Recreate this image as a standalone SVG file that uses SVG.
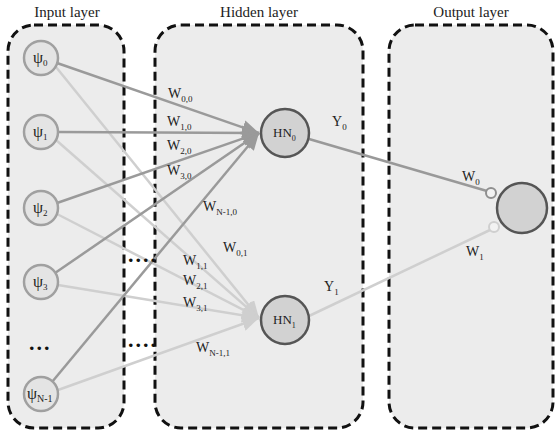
<svg xmlns="http://www.w3.org/2000/svg" width="556" height="432" viewBox="0 0 556 432">
<style>
.box{fill:#ececec;stroke:#111;stroke-width:3;stroke-dasharray:9 5}
.t{font-family:"Liberation Serif","Times New Roman",serif;fill:#222}
.title{font-size:15px;text-anchor:middle}
.w{font-size:14px}
.p{font-size:16px}
.s{font-size:9px}
.in{fill:#e4e4e4;stroke:#a0a0a0;stroke-width:2.5}
.hn{fill:#d2d2d2;stroke:#555;stroke-width:2.5}
.d{stroke:#9a9a9a;stroke-width:2.5;fill:none}
.l{stroke:#cfcfcf;stroke-width:2.5;fill:none}
.dots{font-family:"Liberation Serif",serif;font-size:22px;fill:#111;font-weight:bold;letter-spacing:2px}
</style>
<defs>
<marker id="ad" viewBox="0 0 16 14" refX="16" refY="7" markerWidth="17" markerHeight="15" markerUnits="userSpaceOnUse" orient="auto"><path d="M0,0 L16,7 L0,14 z" fill="#9a9a9a"/></marker>
<marker id="al" viewBox="0 0 16 14" refX="16" refY="7" markerWidth="17" markerHeight="15" markerUnits="userSpaceOnUse" orient="auto"><path d="M0,0 L16,7 L0,14 z" fill="#cfcfcf"/></marker>
</defs>
<g id="layers">
<rect id="input-layer" class="box" x="8" y="25" width="116" height="403" rx="26"/>
<rect id="hidden-layer" class="box" x="155" y="25" width="208" height="403" rx="26"/>
<rect id="output-layer" class="box" x="389" y="25" width="164" height="403" rx="26"/>
<text class="t title" x="67" y="17">Input layer</text>
<text class="t title" x="259" y="17">Hidden layer</text>
<text class="t title" x="471" y="17">Output layer</text>
</g>
<g id="connectors">
<line class="l" x1="56" y1="67" x2="259" y2="318" marker-end="url(#al)"/>
<line class="l" x1="56" y1="140" x2="259" y2="318" marker-end="url(#al)"/>
<line class="l" x1="57" y1="214" x2="259" y2="318" marker-end="url(#al)"/>
<line class="l" x1="58" y1="285" x2="259" y2="318" marker-end="url(#al)"/>
<line class="l" x1="58" y1="390" x2="259" y2="318" marker-end="url(#al)"/>
<line class="d" x1="57" y1="63" x2="259" y2="133" marker-end="url(#ad)"/>
<line class="d" x1="58" y1="132" x2="259" y2="133" marker-end="url(#ad)"/>
<line class="d" x1="57" y1="203" x2="259" y2="133" marker-end="url(#ad)"/>
<line class="d" x1="55" y1="273" x2="259" y2="133" marker-end="url(#ad)"/>
<line class="d" x1="52" y1="382" x2="259" y2="133" marker-end="url(#ad)"/>
<line x1="309" y1="139" x2="487" y2="191" stroke="#999" stroke-width="2.5"/>
<line x1="309" y1="316" x2="490" y2="230" stroke="#cfcfcf" stroke-width="2.5"/>
<circle cx="491" cy="193" r="5" fill="#f2f2f2" stroke="#8f8f8f" stroke-width="2"/>
<circle cx="494" cy="227" r="5" fill="#f2f2f2" stroke="#cfcfcf" stroke-width="2"/>
</g>
<g id="psi0"><circle class="in" cx="41" cy="58" r="17"/><text class="t p" x="33" y="63">ψ<tspan class="s" dy="3">0</tspan></text></g>
<g id="psi1"><circle class="in" cx="41" cy="132" r="17"/><text class="t p" x="33" y="137">ψ<tspan class="s" dy="3">1</tspan></text></g>
<g id="psi2"><circle class="in" cx="41" cy="208" r="17"/><text class="t p" x="33" y="213">ψ<tspan class="s" dy="3">2</tspan></text></g>
<g id="psi3"><circle class="in" cx="41" cy="282" r="17"/><text class="t p" x="33" y="287">ψ<tspan class="s" dy="3">3</tspan></text></g>
<g id="psiN"><circle class="in" cx="41" cy="394" r="17"/><text class="t p" x="27" y="399">ψ<tspan font-size="10" dy="3">N-1</tspan></text></g>
<g id="ellipsis">
<text class="dots" x="29" y="350">...</text>
<text class="dots" x="128" y="262">....</text>
<text class="dots" x="128" y="347">....</text>
</g>
<g id="HN0"><circle class="hn" cx="285" cy="133" r="24"/><text class="t" font-size="13" x="273" y="137">HN<tspan font-size="8" dy="4">0</tspan></text></g>
<g id="HN1"><circle class="hn" cx="285" cy="320" r="24"/><text class="t" font-size="13" x="273" y="324">HN<tspan font-size="8" dy="4">1</tspan></text></g>
<g id="out"><circle class="hn" cx="522" cy="208" r="25"/></g>
<g id="labels">
<text class="t w" x="168" y="98">W<tspan class="s" dy="4">0,0</tspan></text>
<text class="t w" x="167" y="126">W<tspan class="s" dy="4">1,0</tspan></text>
<text class="t w" x="167" y="150">W<tspan class="s" dy="4">2,0</tspan></text>
<text class="t w" x="167" y="175">W<tspan class="s" dy="4">3,0</tspan></text>
<text class="t w" x="203" y="211">W<tspan class="s" dy="4">N-1,0</tspan></text>
<text class="t w" x="223" y="252">W<tspan class="s" dy="4">0,1</tspan></text>
<text class="t w" x="183" y="265">W<tspan class="s" dy="4">1,1</tspan></text>
<text class="t w" x="183" y="285">W<tspan class="s" dy="4">2,1</tspan></text>
<text class="t w" x="183" y="307">W<tspan class="s" dy="4">3,1</tspan></text>
<text class="t w" x="196" y="352">W<tspan class="s" dy="4">N-1,1</tspan></text>
<text class="t w" x="332" y="126">Y<tspan class="s" dy="4">0</tspan></text>
<text class="t w" x="324" y="291">Y<tspan class="s" dy="4">1</tspan></text>
<text class="t w" x="462" y="181">W<tspan class="s" dy="4">0</tspan></text>
<text class="t w" x="466" y="256">W<tspan class="s" dy="4">1</tspan></text>
</g>
</svg>
